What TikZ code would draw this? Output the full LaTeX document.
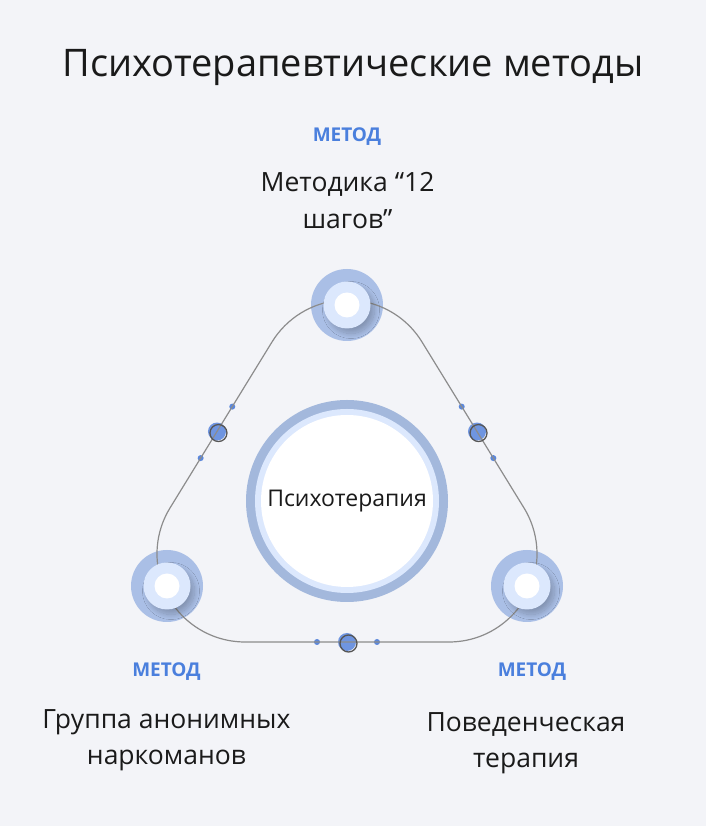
\documentclass[tikz,border=0pt]{standalone}
\usepackage{fontspec}
\setmainfont{Open Sans}
\usetikzlibrary{calc,shadows.blur}
\definecolor{paper}{HTML}{F3F4F8}
\definecolor{ringblue}{HTML}{AABFE6}
\definecolor{haloblue}{HTML}{DCE8FD}
\definecolor{hubblue}{HTML}{A3B8DC}
\definecolor{kindblue}{HTML}{4A7FDD}
\definecolor{pipblue}{HTML}{5B87DB}
\definecolor{beadblue}{HTML}{6F95E0}
\definecolor{trackgray}{HTML}{8C8C8C}
\definecolor{ringgray}{HTML}{555555}
\definecolor{ink}{HTML}{1A1A1A}

\begin{document}
\begin{tikzpicture}[x=1pt, y=1pt]
    \tikzstyle{ring}=[circle,fill=ringblue,minimum size=72,inner sep=0]
    \tikzstyle{halo}=[circle,fill=haloblue,minimum size=47,inner sep=0,blur shadow={shadow xshift=4pt,shadow yshift=-5pt,shadow blur radius=5pt,shadow blur steps=16,shadow opacity=22}]
    \tikzstyle{core}=[circle,fill=white,minimum size=25,inner sep=0]
    \tikzstyle{hub}=[circle,fill=hubblue,minimum size=202,inner sep=0]
    \tikzstyle{hubhalo}=[circle,fill=haloblue,minimum size=184,inner sep=0]
    \tikzstyle{hubcore}=[circle,fill=white,minimum size=172,inner sep=0,text=ink,font=\fontsize{23}{28}\selectfont]
    \tikzstyle{pip}=[circle,fill=pipblue,minimum size=6,inner sep=0]
    \tikzstyle{bead}=[circle,fill=beadblue,minimum size=18,inner sep=0]
    \tikzstyle{beadring}=[circle,draw=ringgray,line width=1.3,minimum size=17,inner sep=0]
    \tikzstyle{track}=[draw=trackgray,line width=1.2]
    \tikzstyle{kind}=[anchor=base,text=kindblue,font=\fontsize{19}{22}\selectfont\bfseries]
    \tikzstyle{label}=[align=center,text=ink,font=\fontsize{26.5}{36.5}\selectfont]
    \path[use as bounding box,fill=paper] (0,0) rectangle (706,826);
    \node[anchor=base,text=ink,font=\fontsize{38}{44}\selectfont] (title) at (353,749) {Психотерапевтические методы};
    \node[hub] (therapy) at (347,325) {};
    \node[hubhalo] (therapyhalo) at (therapy) {};
    \node[hubcore] (therapycore) at (therapy) {Психотерапия};
    \node[ring] (steps) at (347,521) {};
    \node[ring] (group) at (167,240) {};
    \node[ring] (behavior) at (527,240) {};
    \coordinate (ct) at (347,438);
    \coordinate (cl) at (245,272);
    \coordinate (cr) at (449,272);
    \coordinate (lt) at ($(ct)+(148.4:88)$);
    \coordinate (lb) at ($(cl)+(148.4:88)$);
    \coordinate (bl) at ($(cl)+(270:88)$);
    \coordinate (br) at ($(cr)+(270:88)$);
    \coordinate (rb) at ($(cr)+(31.6:88)$);
    \coordinate (rt) at ($(ct)+(31.6:88)$);
    \node[bead] (leftbead) at ($(lt)!0.54!(lb)$) {};
    \node[pip] (leftpipa) at ($(lt)!0.39!(lb)$) {};
    \node[pip] (leftpipb) at ($(lt)!0.70!(lb)$) {};
    \node[bead] (lowbead) at ($(bl)!0.5!(br)$) {};
    \node[pip] (lowpipa) at ($(bl)!0.353!(br)$) {};
    \node[pip] (lowpipb) at ($(bl)!0.647!(br)$) {};
    \node[bead] (rightbead) at ($(rt)!0.54!(rb)$) {};
    \node[pip] (rightpipa) at ($(rt)!0.39!(rb)$) {};
    \node[pip] (rightpipb) at ($(rt)!0.70!(rb)$) {};
    \draw[track] (lt) -- (lb) arc[start angle=148.4,end angle=270,radius=88] -- (br) arc[start angle=270,end angle=391.6,radius=88] -- (rt) arc[start angle=31.6,end angle=148.4,radius=88] -- cycle;
    \node[beadring] (leftring) at ($(leftbead)+(1.5,-1.5)$) {};
    \node[beadring] (lowring) at ($(lowbead)+(1.5,-1.5)$) {};
    \node[beadring] (rightring) at ($(rightbead)+(1.5,-1.5)$) {};
    \node[halo] (stepshalo) at (steps) {};
    \node[core] (stepscore) at (steps) {};
    \node[halo] (grouphalo) at (group) {};
    \node[core] (groupcore) at (group) {};
    \node[halo] (behaviorhalo) at (behavior) {};
    \node[core] (behaviorcore) at (behavior) {};
    \node[kind] (stepskind) at (347,684) {МЕТОД};
    \node[label] (stepstext) at (347.5,625.5) {Методика “12\\шагов”};
    \node[kind] (groupkind) at (166.5,149) {МЕТОД};
    \node[label] (grouptext) at (166.5,86) {Группа анонимных\\наркоманов};
    \node[kind] (behaviorkind) at (532,149) {МЕТОД};
    \node[label] (behaviortext) at (526,83) {Поведенческая\\терапия};
\end{tikzpicture}
\end{document}
